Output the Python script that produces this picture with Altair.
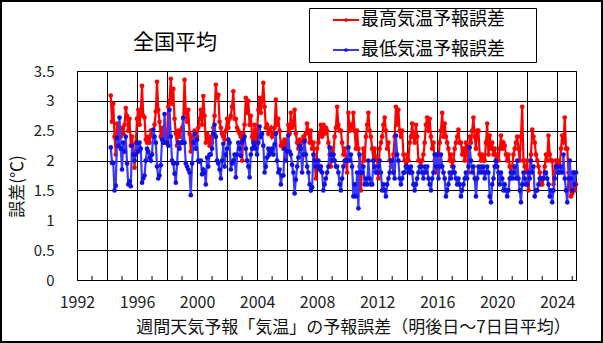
import altair as alt
import pandas as pd

# Monthly forecast errors (deg C), April 1994 .. April 2025
start_year, start_month = 1994, 4

max_err = [
    3.09, 2.65, 2.95, 2.40, 2.10, 2.62, 2.45, 2.30, 2.40,                 # 1994 Apr-Dec
    2.55, 2.45, 2.60, 2.88, 2.75, 2.50, 2.70, 2.25, 2.40, 2.15, 1.88, 2.30,  # 1995
    2.70, 2.85, 2.60, 2.80, 3.25, 2.75, 2.72, 2.35, 2.30, 2.40, 2.30, 2.50,  # 1996
    2.45, 2.40, 2.60, 2.82, 3.32, 2.85, 2.65, 2.40, 2.55, 2.30, 2.45, 2.35,  # 1997
    2.45, 2.90, 3.00, 3.37, 2.95, 3.20, 2.70, 2.45, 2.25, 2.50, 2.40, 2.50,  # 1998
    2.55, 2.70, 3.35, 2.80, 2.65, 2.85, 2.45, 2.15, 2.40, 2.30, 2.50, 2.45,  # 1999
    2.40, 2.55, 2.70, 2.85, 2.60, 3.08, 2.75, 2.30, 2.45, 2.35, 2.25, 2.40,  # 2000
    2.30, 2.55, 2.75, 3.27, 3.05, 3.10, 2.65, 2.55, 2.45, 2.40, 2.35, 2.50,  # 2001
    2.70, 2.55, 2.70, 2.75, 2.90, 3.16, 2.70, 2.70, 2.55, 2.50, 2.45, 2.40,  # 2002
    2.00, 2.45, 2.60, 3.05, 2.80, 3.00, 2.60, 2.75, 2.40, 2.35, 2.60, 2.30,  # 2003
    2.50, 2.85, 3.05, 2.80, 3.00, 3.30, 2.90, 2.55, 2.60, 2.45, 2.50, 2.55,  # 2004
    2.40, 2.45, 2.55, 3.02, 2.60, 2.70, 2.50, 2.25, 2.30, 2.20, 2.35, 2.05,  # 2005
    2.30, 2.60, 2.45, 2.80, 2.55, 2.60, 2.85, 2.45, 2.30, 2.20, 2.35, 2.20,  # 2006
    2.30, 2.40, 2.35, 2.45, 2.62, 2.50, 2.30, 2.50, 2.20, 2.30, 2.00, 1.70,  # 2007
    2.20, 2.30, 2.45, 2.60, 2.40, 2.60, 2.45, 2.55, 2.50, 2.30, 2.10, 1.90,  # 2008
    2.20, 2.10, 2.40, 2.55, 2.90, 2.60, 2.50, 2.50, 2.30, 2.10, 2.20, 2.00,  # 2009
    1.80, 2.80, 2.50, 2.60, 2.55, 2.80, 2.50, 2.20, 2.50, 2.20, 1.90, 1.50,  # 2010
    1.90, 2.20, 2.00, 2.40, 2.60, 2.80, 2.50, 2.40, 2.20, 2.00, 2.20, 2.05,  # 2011
    2.00, 1.70, 2.20, 2.30, 2.40, 2.60, 2.72, 2.50, 2.20, 2.30, 2.00, 1.90,  # 2012
    1.90, 2.10, 2.40, 2.90, 2.60, 2.85, 2.50, 2.40, 2.50, 2.10, 2.00, 1.90,  # 2013
    2.10, 2.00, 2.30, 2.40, 2.62, 2.40, 2.30, 2.60, 2.40, 2.00, 2.00, 1.90,  # 2014
    2.00, 2.10, 2.30, 2.60, 2.72, 2.50, 2.70, 2.40, 2.20, 2.30, 2.00, 1.80,  # 2015
    2.10, 2.00, 2.30, 2.50, 2.80, 2.40, 2.62, 2.40, 2.30, 2.20, 2.00, 2.10,  # 2016
    1.90, 2.00, 2.20, 2.30, 2.40, 2.52, 2.30, 2.30, 2.10, 2.20, 2.00, 2.30,  # 2017
    2.10, 1.80, 2.40, 2.30, 2.50, 2.72, 2.40, 2.20, 2.50, 2.50, 2.10, 2.00,  # 2018
    2.10, 2.00, 2.00, 2.30, 2.62, 2.10, 2.42, 2.20, 2.30, 2.10, 2.20, 2.00,  # 2019
    2.10, 2.00, 2.20, 2.42, 2.20, 2.30, 2.25, 2.10, 2.00, 2.10, 1.90, 1.80,  # 2020
    1.90, 2.10, 2.20, 2.30, 2.40, 2.20, 2.00, 2.40, 2.90, 2.00, 1.90, 1.80,  # 2021
    2.00, 1.50, 1.80, 2.10, 2.52, 2.40, 2.30, 2.10, 2.00, 1.90, 1.80, 1.60,  # 2022
    1.60, 1.70, 1.90, 2.10, 2.00, 2.42, 2.10, 2.00, 2.00, 1.60, 1.80, 2.00,  # 2023
    1.80, 2.00, 1.90, 2.20, 2.42, 2.30, 2.72, 2.20, 2.20, 1.80, 1.60, 1.40,  # 2024
    1.45, 1.80, 1.50, 1.60,                                               # 2025 Jan-Apr
]

min_err = [
    2.22, 1.96, 1.96, 1.50, 1.58, 2.38, 2.25, 2.72, 2.20,                 # 1994 Apr-Dec
    1.85, 2.30, 2.15, 2.40, 1.95, 1.60, 1.65, 1.57, 2.25, 2.10, 2.00, 2.10,  # 1995
    2.30, 2.15, 2.30, 2.20, 1.63, 1.70, 1.75, 2.00, 2.20, 2.15, 2.05, 2.00,  # 1996
    2.10, 2.52, 2.40, 2.30, 1.90, 1.70, 1.75, 1.92, 2.35, 2.30, 2.78, 2.30,  # 1997
    2.30, 2.25, 2.85, 2.40, 2.00, 1.95, 1.78, 1.63, 1.95, 2.30, 2.20, 2.30,  # 1998
    2.30, 2.72, 2.30, 1.95, 1.90, 1.85, 1.80, 1.42, 1.95, 2.30, 2.45, 2.20,  # 1999
    2.35, 2.00, 1.98, 2.00, 1.77, 1.85, 1.80, 1.60, 2.05, 1.90, 2.10, 2.10,  # 2000
    2.20, 2.45, 2.60, 2.40, 2.00, 1.95, 1.85, 1.70, 2.00, 2.28, 1.90, 2.10,  # 2001
    2.20, 2.35, 2.30, 1.85, 1.95, 2.00, 2.10, 1.72, 2.10, 2.30, 2.20, 2.08,  # 2002
    2.30, 2.35, 2.40, 2.20, 2.00, 1.90, 1.72, 2.10, 2.20, 2.30, 2.25, 2.20,  # 2003
    2.10, 2.30, 2.57, 2.40, 2.45, 2.25, 1.80, 1.90, 2.05, 2.20, 2.10, 2.15,  # 2004
    2.20, 2.10, 2.27, 2.45, 2.00, 1.80, 1.85, 1.60, 1.75, 1.75, 2.20, 2.00,  # 2005
    2.15, 2.42, 2.15, 2.10, 1.93, 1.80, 1.45, 1.68, 1.90, 2.05, 2.25, 2.20,  # 2006
    1.80, 2.10, 2.32, 2.10, 1.90, 1.80, 1.60, 1.50, 1.55, 2.10, 2.00, 1.90,  # 2007
    1.90, 2.00, 1.85, 1.90, 1.80, 1.50, 1.60, 1.70, 1.80, 1.90, 2.22, 2.10,  # 2008
    2.00, 2.10, 2.00, 1.90, 1.90, 1.80, 1.60, 1.50, 1.70, 1.90, 2.00, 2.00,  # 2009
    2.00, 2.22, 2.00, 2.10, 1.90, 1.40, 1.60, 1.40, 1.80, 1.20, 2.10, 1.80,  # 2010
    1.80, 1.90, 1.60, 1.70, 1.60, 2.00, 1.70, 1.60, 1.60, 2.00, 1.90, 1.80,  # 2011
    1.80, 1.90, 2.00, 1.80, 1.50, 1.60, 1.50, 1.40, 1.60, 1.70, 1.80, 2.00,  # 2012
    2.00, 1.80, 1.70, 2.42, 2.10, 2.00, 1.70, 1.60, 1.70, 1.80, 1.80, 1.90,  # 2013
    1.90, 1.85, 1.80, 1.90, 1.80, 1.60, 1.50, 1.60, 1.70, 1.80, 1.90, 1.90,  # 2014
    1.80, 1.70, 1.90, 1.80, 1.90, 1.70, 1.60, 1.50, 1.70, 1.80, 2.10, 1.90,  # 2015
    2.10, 1.70, 1.90, 2.10, 1.90, 1.80, 1.70, 1.40, 1.50, 1.60, 1.80, 1.70,  # 2016
    1.80, 1.90, 1.80, 1.70, 1.60, 1.70, 1.60, 1.40, 1.50, 1.60, 1.70, 1.80,  # 2017
    1.70, 1.90, 2.22, 2.00, 1.80, 1.90, 1.70, 1.40, 1.70, 1.90, 1.80, 1.90,  # 2018
    1.80, 1.90, 1.70, 1.80, 1.90, 1.80, 1.40, 1.30, 1.60, 1.70, 1.90, 2.00,  # 2019
    1.90, 1.80, 1.60, 1.80, 1.70, 1.50, 1.60, 1.50, 1.40, 1.50, 1.70, 1.80,  # 2020
    1.70, 1.80, 1.90, 1.70, 2.00, 1.70, 1.50, 1.30, 1.60, 1.80, 1.70, 1.60,  # 2021
    1.60, 1.80, 1.70, 2.00, 1.80, 1.90, 1.40, 1.50, 1.50, 1.60, 1.70, 1.70,  # 2022
    1.70, 1.70, 1.80, 1.80, 1.70, 1.60, 1.40, 1.50, 1.30, 1.50, 1.70, 1.90,  # 2023
    1.90, 1.80, 1.80, 1.90, 1.80, 2.10, 1.70, 1.50, 1.30, 1.70, 2.00, 1.70,  # 2024
    1.50, 1.80, 1.60, 1.80,                                               # 2025 Jan-Apr
]

series_names = ["最高気温予報誤差", "最低気温予報誤差"]
line_colors = ["#FF0000", "#3838FF"]
dot_colors = ["#FF0000", "#1010E0"]

x_grid_years = list(range(1992, 2025, 2))
minor_tick_years = list(range(1993, 2026, 2))
y_ticks = [0, 0.5, 1, 1.5, 2, 2.5, 3, 3.5]

title_text = "全国平均"
x_title = "週間天気予報「気温」の予報誤差（明後日～7日目平均）"
y_title = "誤差(℃)"

FONT = "Noto Sans CJK JP"


def month_positions(n):
    out = []
    y, m = start_year, start_month
    for _ in range(n):
        out.append(y + (m - 1) / 12.0)
        m += 1
        if m > 12:
            m = 1
            y += 1
    return out


frames = []
for name, vals in zip(series_names, [max_err, min_err]):
    frames.append(pd.DataFrame({"t": month_positions(len(vals)), "v": vals, "s": name}))
df = pd.concat(frames, ignore_index=True)

W, H = 499, 209

xscale = alt.Scale(domain=[1992, 2025.25], nice=False, zero=False)
yscale = alt.Scale(domain=[0, 3.5], nice=False)

x_axis = alt.Axis(
    values=x_grid_years, format="d",
    labelExpr="datum.value % 4 == 0 ? datum.label : ''",
    grid=True, gridColor="black", gridOpacity=1, gridWidth=1,
    ticks=False, domain=False, labelPadding=14, labelFontSize=16, labelFlush=False,
    labelFont=FONT, labelColor="#222222",
    title=x_title, titleFont=FONT, titleFontSize=17, titleFontWeight="normal",
    titleColor="#111111", titleX=276, titleY=47, titleBaseline="middle", titleAlign="center",
)
y_axis = alt.Axis(
    values=y_ticks, format=".1~f",
    grid=True, gridColor="black", gridOpacity=1, gridWidth=1,
    ticks=False, domain=False, labelPadding=23, labelFontSize=15, labelFlush=False,
    labelFont=FONT, labelColor="#222222",
    title=y_title, titleFont=FONT, titleFontSize=17, titleFontWeight="normal",
    titleColor="#111111", titleX=-60, titleY=115, titleAngle=270,
    titleBaseline="middle", titleAlign="center",
)


def X(field):
    return alt.X(field, scale=xscale, axis=x_axis, title=x_title)


def Y(field):
    return alt.Y(field, scale=yscale, axis=y_axis, title=y_title)


layers = []
for name, lc, dc in zip(series_names, line_colors, dot_colors):
    sub = df[df["s"] == name]
    line = alt.Chart(sub).mark_line(color=lc, strokeWidth=2.2).encode(x=X("t:Q"), y=Y("v:Q"))
    pts = alt.Chart(sub).mark_point(filled=True, color=dc, size=22, opacity=1).encode(
        x=X("t:Q"), y=Y("v:Q"))
    layers += [line, pts]

# minor year ticks along the bottom
minor = alt.Chart(pd.DataFrame({"yr": minor_tick_years})).mark_rule(color="black", strokeWidth=1).encode(
    x=X("yr:Q"),
    y=alt.value(H),
    y2=alt.value(H - 4),
)
layers.append(minor)

one = pd.DataFrame({"k": [0]})

# outer frame
frame = alt.Chart(one).mark_rect(fill=None, stroke="black", strokeWidth=2).encode(
    x=alt.value(-76), x2=alt.value(525), y=alt.value(-70), y2=alt.value(271)
)
layers.append(frame)

# title
title = alt.Chart(one).mark_text(
    font=FONT, fontSize=21, align="left", baseline="middle", color="black"
).encode(x=alt.value(56), y=alt.value(-28), text=alt.value(title_text))
layers.append(title)

# legend box
legend_box = alt.Chart(one).mark_rect(fill="white", stroke="black", strokeWidth=1).encode(
    x=alt.value(232.5), x2=alt.value(459.5), y=alt.value(-62.5), y2=alt.value(-8.5)
)
layers.append(legend_box)
for i, (name, lc, dc) in enumerate(zip(series_names, line_colors, dot_colors)):
    ly = -51 + 30 * i
    layers.append(alt.Chart(one).mark_rule(color=lc, strokeWidth=2).encode(
        x=alt.value(256), x2=alt.value(282), y=alt.value(ly)))
    layers.append(alt.Chart(one).mark_point(filled=True, color=dc, size=14, opacity=1).encode(
        x=alt.value(269), y=alt.value(ly)))
    layers.append(alt.Chart(one).mark_text(
        font=FONT, fontSize=18, align="left", baseline="middle", color="black"
    ).encode(x=alt.value(284), y=alt.value(ly), text=alt.value(name)))

chart = alt.layer(*layers).properties(
    width=W, height=H,
    autosize=alt.AutoSizeParams(type="none"),
    padding={"left": 77, "top": 71, "right": 27, "bottom": 63},
    background="white",
).configure_view(stroke="black", strokeWidth=1)

chart.save("out.html", embed_options={"renderer": "svg", "actions": False})
